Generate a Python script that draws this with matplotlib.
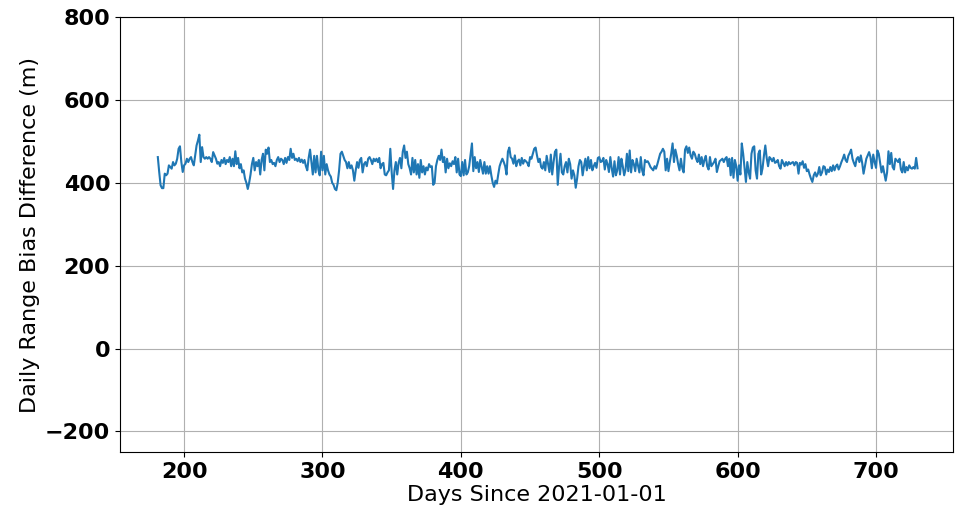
import numpy as np
import matplotlib.pyplot as plt

# daily values, in chunks keyed by first day
seg_181 = [462, 426, 394, 387, 387, 422, 418, 422, 442, 438, 434, 450, 442, 446, 458,
           482, 488, 450, 426, 442, 446, 458, 450, 458, 462, 450, 442, 466, 490, 502,
           516, 450, 486, 462, 458, 462, 458, 462, 458, 450, 474, 466, 458]
seg_224 = [446, 450, 440, 455, 448, 460, 445, 455, 450, 462, 440, 458, 440, 476, 445,
           460, 435, 445, 425, 430, 410, 400, 385, 400, 420, 445, 460, 430, 450, 440,
           455, 420, 455, 470, 430, 480, 470, 485, 450, 455, 445, 448, 440, 455, 462,
           450, 458]
seg_271 = [455, 445, 460, 448, 462, 455, 482, 460, 470, 455, 458, 452, 460, 450, 456,
           448, 455, 440, 430, 460, 480, 450, 420, 465, 425, 465, 432, 418, 475, 430,
           465, 420, 445, 430, 420, 415, 400, 395, 385, 382, 400, 430, 470, 475, 465,
           455, 450]
seg_318 = [435, 450, 435, 442, 430, 405, 430, 450, 436, 455, 460, 425, 445, 450, 440,
           458, 462, 455, 445, 458, 452, 458, 450, 460, 435, 445, 448, 420, 418, 425,
           430, 482, 425, 385, 430, 450, 420, 448, 460, 435, 475, 490, 460, 475, 445,
           435]
seg_364 = [420, 460, 425, 455, 420, 445, 412, 455, 425, 440, 420, 437, 430, 445, 438,
           440, 395, 400, 440, 455, 465, 455, 480, 450, 462, 425, 458, 435, 447, 440,
           452, 445, 462, 425, 458, 420, 416, 450, 418, 455, 420, 425, 440]
seg_408 = [495, 428, 462, 435, 450, 426, 455, 438, 422, 450, 422, 440, 422, 440, 418,
           400, 390, 405, 398, 420, 440, 450, 458, 450, 440, 420, 475, 485, 462, 458,
           446, 466, 440, 452, 456, 442, 460, 446, 455, 452, 448, 440, 462, 458, 470,
           482, 485, 466]
seg_456 = [450, 458, 438, 434, 450, 430, 465, 445, 426, 468, 420, 450, 475, 480, 395,
           440, 470, 425, 420, 440, 450, 425, 458, 445, 410, 430, 418, 388, 410, 440,
           455, 450, 418, 440, 458, 430, 462, 435, 455, 430, 440, 448, 436, 460, 462,
           450]
seg_502 = [452, 460, 432, 455, 445, 426, 462, 435, 415, 452, 418, 430, 462, 420, 458,
           440, 418, 432, 470, 428, 478, 425, 455, 445, 428, 458, 442, 425, 462, 430,
           418, 455, 450, 452, 446, 438, 434, 430, 440, 434, 445, 458, 470, 475, 482]
seg_547 = [475, 430, 458, 428, 450, 470, 495, 450, 480, 465, 445, 430, 458, 435, 425,
           480, 488, 472, 485, 466, 458, 475, 470, 458, 450, 468, 445, 462, 440, 455,
           465, 440, 432, 462, 440, 445, 450, 458, 426, 440, 452, 455, 458, 450, 458,
           462, 440, 458]
seg_595 = [418, 460, 412, 455, 440, 405, 442, 420, 495, 470, 435, 402, 450, 425, 410,
           470, 485, 488, 430, 410, 470, 478, 420, 435, 465, 490, 460, 440, 462, 458,
           452, 460, 448, 450, 455, 440, 434, 455, 448, 440, 450, 442, 450, 445, 448,
           450]
seg_641 = [442, 450, 448, 422, 448, 444, 452, 436, 445, 428, 432, 420, 410, 402, 418,
           425, 415, 422, 438, 418, 425, 440, 438, 420, 432, 426, 438, 428, 442, 430,
           440, 444, 432, 440, 450, 458, 468, 455, 450, 465, 472, 480, 458, 448, 440]
seg_686 = [458, 462, 450, 466, 448, 422, 440, 458, 466, 474, 462, 435, 468, 450, 436,
           478, 470, 448, 425, 440, 422, 405, 425, 476, 445, 472, 438, 432, 458, 454,
           450, 458, 432, 425, 450, 425, 438, 430, 442, 436, 434, 438, 434, 460, 435]

segments = {181: seg_181, 224: seg_224, 271: seg_271, 318: seg_318, 364: seg_364,
            408: seg_408, 456: seg_456, 502: seg_502, 547: seg_547, 595: seg_595,
            641: seg_641, 686: seg_686}

days = np.concatenate([np.arange(d0, d0 + len(v)) for d0, v in segments.items()])
bias_diff = np.concatenate([np.array(v, dtype=float) for v in segments.values()])

fig = plt.figure(figsize=(9.55, 5.08), dpi=100)
ax = fig.add_axes([0.1257, 0.110, 0.8723, 0.8565])
ax.plot(days, bias_diff, color='tab:blue', linewidth=1.5)

ax.set_xlim(153.7, 755.7)
ax.set_ylim(-250, 800)
ax.set_xticks([200, 300, 400, 500, 600, 700])
ax.set_yticks([-200, 0, 200, 400, 600, 800])
ax.grid(True, color='#b0b0b0', linewidth=0.8)
ax.set_axisbelow(True)

for lab in ax.get_xticklabels() + ax.get_yticklabels():
    lab.set_fontweight('bold')
    lab.set_fontsize(16)

ax.set_xlabel('Days Since 2021-01-01', fontsize=16, labelpad=2)
ax.set_ylabel('Daily Range Bias Difference (m)', fontsize=16)

fig.savefig('out.png', dpi=100)
